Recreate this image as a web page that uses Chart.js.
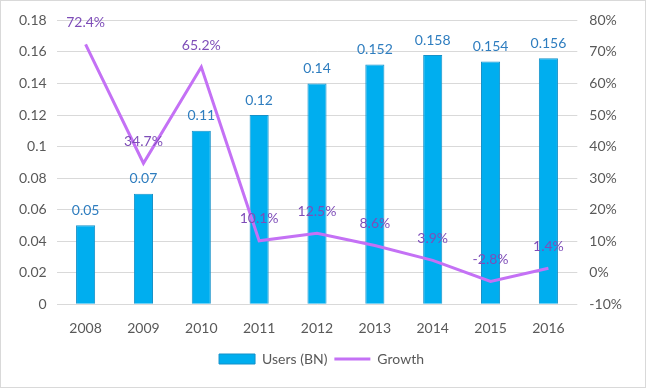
<!DOCTYPE html>
<html><head><meta charset="utf-8">
<script src="https://cdn.jsdelivr.net/npm/chart.js@4/dist/chart.umd.min.js"></script>
<style>html,body{margin:0;padding:0;background:#fff}#wrap{width:646px;height:388px;position:relative}</style>
</head><body><div id="wrap"><canvas id="c" width="646" height="388"></canvas></div>
<script>
const years = ['2008','2009','2010','2011','2012','2013','2014','2015','2016'];
const users = [0.05,0.07,0.11,0.12,0.14,0.152,0.158,0.154,0.156];
const growth = [72.4,34.7,65.2,10.1,12.5,8.6,3.9,-2.8,1.4];
const userLabels = ['0.05','0.07','0.11','0.12','0.14','0.152','0.158','0.154','0.156'];
const growthLabels = ['72.4%','34.7%','65.2%','10.1%','12.5%','8.6%','3.9%','-2.8%','1.4%'];

const FONT = 'Lato, "Open Sans", sans-serif';
const labelPlugin = {
  id: 'labels',
  afterDatasetsDraw(chart) {
    const ctx = chart.ctx;
    ctx.save();
    ctx.font = '14px ' + FONT;
    ctx.textAlign = 'center';
    ctx.textBaseline = 'middle';
    const m0 = chart.getDatasetMeta(0);
    m0.data.forEach((el, i) => {
      ctx.fillStyle = '#2E7DBF';
      ctx.fillText(userLabels[i], el.x, el.y - 15);
    });
    const m1 = chart.getDatasetMeta(1);
    m1.data.forEach((el, i) => {
      ctx.fillStyle = '#7E4DB8';
      ctx.fillText(growthLabels[i], el.x, el.y - 22);
    });
    ctx.restore();
  },
  beforeDraw(chart) {
    const ctx = chart.ctx;
    ctx.save();
    ctx.fillStyle = '#fff';
    ctx.fillRect(0, 0, chart.width, chart.height);
    ctx.strokeStyle = '#D9D9D9';
    ctx.lineWidth = 1;
    ctx.strokeRect(0.5, 0.5, chart.width - 1, chart.height - 1);
    ctx.restore();
  }
};

new Chart(document.getElementById('c'), {
  data: {
    labels: years,
    datasets: [
      { type: 'bar', label: 'Users (BN)', data: users, yAxisID: 'y',
        backgroundColor: '#00AEEF', borderColor: '#1591C9', borderWidth: 1,
        barPercentage: 0.33, categoryPercentage: 1, order: 2 },
      { type: 'line', label: 'Growth', data: growth, yAxisID: 'y1',
        borderColor: '#C471F5', backgroundColor: '#C471F5', borderWidth: 3,
        pointRadius: 0, tension: 0, order: 1 }
    ]
  },
  options: {
    responsive: false, animation: false,
    layout: { padding: { top: 14, left: 9, right: 12, bottom: 12 } },
    plugins: {
      tooltip: { enabled: false },
      legend: {
        position: 'bottom',
        labels: {
          usePointStyle: true, pointStyleWidth: 36, boxHeight: 10,
          color: '#595959', font: { size: 14, family: FONT }, padding: 7,
          generateLabels(chart) {
            return [
              { text: 'Users (BN)', fillStyle: '#00AEEF', strokeStyle: '#1591C9', lineWidth: 1, pointStyle: 'rect', datasetIndex: 0, fontColor: '#595959' },
              { text: 'Growth', fillStyle: '#C471F5', strokeStyle: '#C471F5', lineWidth: 3, pointStyle: 'line', datasetIndex: 1, fontColor: '#595959' }
            ];
          }
        }
      }
    },
    scales: {
      x: {
        grid: { display: false },
        border: { display: false },
        ticks: { color: '#595959', font: { size: 14, family: FONT }, padding: 8 }
      },
      y: {
        position: 'left', min: 0, max: 0.18,
        grid: { color: '#D9D9D9', drawTicks: false },
        border: { display: false },
        ticks: { stepSize: 0.02, color: '#595959', font: { size: 14, family: FONT }, padding: 10,
          callback: v => String(Math.round(v * 100) / 100) }
      },
      y1: {
        position: 'right', min: -10, max: 80,
        grid: { display: false, drawTicks: false },
        border: { display: false },
        ticks: { stepSize: 10, color: '#595959', font: { size: 14, family: FONT }, padding: 12,
          callback: v => v + '%' }
      }
    }
  },
  plugins: [labelPlugin]
});
</script>
</body></html>
